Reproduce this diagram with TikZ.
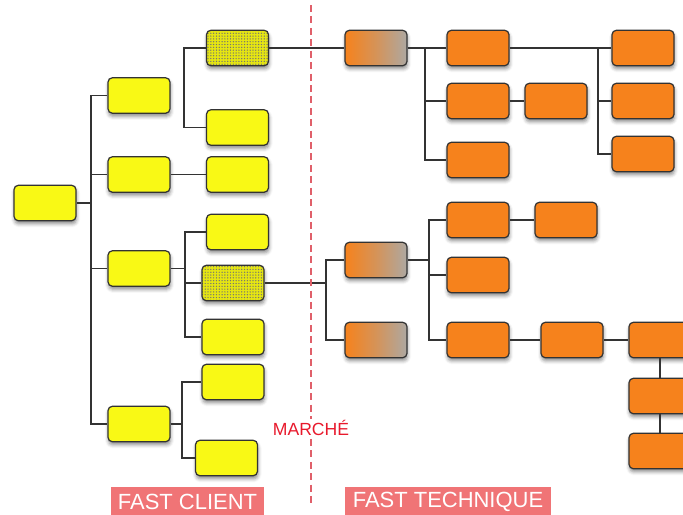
\documentclass[tikz,border=0pt]{standalone}
\usepackage{fontspec}
\setmainfont{Liberation Sans}
\usetikzlibrary{patterns.meta,shadows.blur}
\definecolor{fyellow}{HTML}{F9F915}
\definecolor{forange}{HTML}{F6821C}
\definecolor{fgrey}{HTML}{ADA8A2}
\definecolor{fline}{HTML}{333333}
\definecolor{fred}{HTML}{E8192C}
\definecolor{fdash}{HTML}{E0606A}
\definecolor{fband}{HTML}{F07476}
\tikzset{
  blk/.style={draw=fline,line width=0.7pt,rounded corners=2.5pt,minimum width=1.24cm,minimum height=0.71cm,inner sep=0pt,
    blur shadow={shadow xshift=0.3pt,shadow yshift=-1.8pt,shadow blur radius=2pt,shadow opacity=45}},
  cli/.style={blk,fill=fyellow},
  mkt/.style={blk,preaction={fill=fyellow!92!black},pattern={Dots[distance=1.6pt,radius=0.4pt]},pattern color=black!55},
  tec/.style={blk,fill=forange},
  mix/.style={blk,left color=forange,right color=fgrey,middle color=forange!55!fgrey},
  wire/.style={draw=fline,line width=0.6pt},
  mline/.style={draw=fdash,line width=0.8pt,dash pattern=on 4pt off 2.5pt},
  mtxt/.style={fill=white,text=fred,font=\fontsize{10}{12}\selectfont,inner sep=1pt},
  band/.style={fill=fband,text=white,font=\fontsize{12.5}{14}\selectfont,minimum height=0.62cm,inner sep=0pt},
}
\begin{document}
\begin{tikzpicture}[x=0.02cm,y=-0.02cm]
  \useasboundingbox (0,0) rectangle (683,514);
  % fast client
  \node[cli] (R) at (45,203) {};
  \foreach \n/\y in {A1/95.5,A2/174.5,A3/268.5,A4/424}
    \node[cli] (\n) at (139,\y) {};
  \node[mkt] (B1) at (237.5,48) {};
  \foreach \n/\y in {B2/127.5,B3/174.5,B4/232}
    \node[cli] (\n) at (237.5,\y) {};
  \node[mkt] (B5) at (233,283) {};
  \foreach \n/\y in {B6/337,B7/382}
    \node[cli] (\n) at (233,\y) {};
  \node[cli] (B8) at (226.5,458) {};
  \coordinate (jR) at (91,203);
  \coordinate (jB) at (184,88);
  \coordinate (jA3) at (185,268.5);
  \coordinate (jA4) at (182,424);
  \draw[wire] (R) -- (jR);
  \draw[wire] (A1.west) -| (jR) |- (A4.west);
  \draw[wire] (jR |- A2.west) -- (A2.west);
  \draw[wire] (jR |- A3.west) -- (A3.west);
  \draw[wire] (B1.west) -| (jB) |- (B2.west);
  \draw[wire] (A2) -- (B3);
  \draw[wire] (A3) -- (jA3);
  \draw[wire] (B4.west) -| (jA3) |- (B6.west);
  \draw[wire] (jA3 |- B5.west) -- (B5.west);
  \draw[wire] (A4) -- (jA4);
  \draw[wire] (B7.west) -| (jA4) |- (B8.west);
  % fast technique
  \foreach \n/\y in {C1/48,C2/260,C3/340}
    \node[mix] (\n) at (376,\y) {};
  \foreach \n/\x/\y in {D1/478/48,D2/478/101,D3/478/160,E1/556/101,F1/643/48,F2/643/101,F3/643/154,
                        G1/478/220,G4/566/220,G2/478/275,G3/478/340,H1/572/340,I1/660/340,I2/660/396,I3/660/451}
    \node[tec] (\n) at (\x,\y) {};
  \coordinate (jB5) at (326,283);
  \coordinate (jC1) at (425,48);
  \coordinate (jD1) at (598,48);
  \coordinate (jC2) at (429,260);
  \draw[wire] (B1) -- (C1);
  \draw[wire] (B5) -- (jB5);
  \draw[wire] (C2.west) -| (jB5) |- (C3.west);
  \draw[wire] (C1) -- (D1) -- (F1);
  \draw[wire] (jC1) |- (D3.west);
  \draw[wire] (jC1 |- D2.west) -- (D2.west);
  \draw[wire] (D2) -- (E1);
  \draw[wire] (jD1) |- (F3.west);
  \draw[wire] (jD1 |- F2.west) -- (F2.west);
  \draw[wire] (C2) -- (jC2);
  \draw[wire] (G1.west) -| (jC2) |- (G3.west);
  \draw[wire] (jC2 |- G2.west) -- (G2.west);
  \draw[wire] (G1) -- (G4);
  \draw[wire] (G3) -- (H1) -- (I1);
  \draw[wire] (I1) -- (I2) -- (I3);
  % marche
  \coordinate (mtop) at (311,5);
  \coordinate (mbot) at (311,503);
  \draw[mline] (mtop) -- (mbot);
  \node[mtxt] (mk) at (311,428) {MARCHÉ};
  \node[band,minimum width=3.06cm] (fc) at (187.5,502) {FAST CLIENT};
  \node[band,minimum width=4.12cm] (ft) at (448,502) {FAST TECHNIQUE};
\end{tikzpicture}
\end{document}
